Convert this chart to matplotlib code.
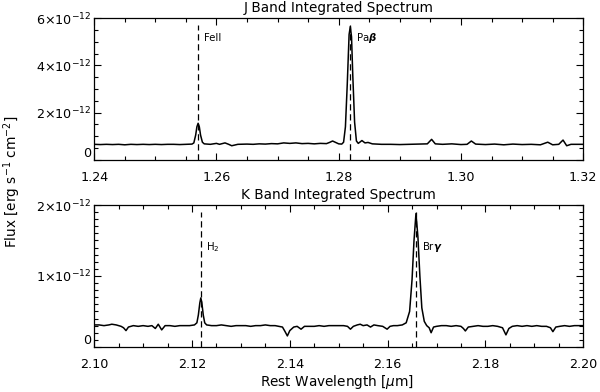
import matplotlib
matplotlib.use("Agg")
import matplotlib.pyplot as plt
from matplotlib.ticker import MultipleLocator, FixedLocator, FixedFormatter

SCALE = 1e-12

# ---- J band spectrum (wavelength [um], flux [1e-12 erg/s/cm2]) ----
j_wave = [1.2400, 1.2410, 1.2420, 1.2430, 1.2440, 1.2450, 1.2460, 1.2470, 1.2480, 1.2490,
          1.2500, 1.2510, 1.2520, 1.2530, 1.2540, 1.2550, 1.2560, 1.2563, 1.2566, 1.2568,
          1.2570, 1.2572, 1.2574, 1.2577, 1.2580, 1.2590, 1.2600, 1.2605, 1.2614, 1.2620,
          1.2625, 1.2635, 1.2650, 1.2660, 1.2670, 1.2680, 1.2690, 1.2700, 1.2710, 1.2720,
          1.2730, 1.2740, 1.2750, 1.2760, 1.2770, 1.2780, 1.2785, 1.2790, 1.2795, 1.2800,
          1.2805, 1.2808, 1.2811, 1.2814, 1.2817, 1.2819, 1.2821, 1.2823, 1.2826, 1.2829,
          1.2832, 1.2838, 1.2843, 1.2848, 1.2855, 1.2870, 1.2885, 1.2900, 1.2915, 1.2930,
          1.2945, 1.2952, 1.2958, 1.2970, 1.2985, 1.3000, 1.3010, 1.3017, 1.3024, 1.3040,
          1.3055, 1.3070, 1.3085, 1.3100, 1.3115, 1.3130, 1.3142, 1.3150, 1.3160, 1.3167,
          1.3173, 1.3180, 1.3200]
j_flux = [0.66, 0.65, 0.66, 0.65, 0.66, 0.64, 0.66, 0.65, 0.66, 0.65,
          0.66, 0.65, 0.66, 0.66, 0.65, 0.66, 0.67, 0.72, 1.05, 1.40,
          1.55, 1.40, 1.05, 0.75, 0.68, 0.66, 0.70, 0.66, 0.72, 0.66,
          0.60, 0.66, 0.67, 0.66, 0.68, 0.67, 0.69, 0.68, 0.72, 0.70,
          0.72, 0.69, 0.70, 0.68, 0.70, 0.69, 0.74, 0.80, 0.74, 0.68,
          0.67, 0.75, 1.40, 3.20, 5.30, 5.64, 5.20, 3.60, 1.60, 0.80,
          0.70, 0.82, 0.72, 0.74, 0.68, 0.66, 0.66, 0.65, 0.66, 0.67,
          0.68, 0.87, 0.68, 0.66, 0.68, 0.65, 0.66, 0.80, 0.67, 0.65,
          0.67, 0.64, 0.67, 0.65, 0.66, 0.64, 0.75, 0.64, 0.66, 0.84,
          0.60, 0.66, 0.66]

# ---- K band spectrum ----
k_wave = [2.1000, 2.1010, 2.1020, 2.1030, 2.1036, 2.1045, 2.1055, 2.1060, 2.1065, 2.1070,
          2.1080, 2.1090, 2.1100, 2.1110, 2.1118, 2.1125, 2.1131, 2.1138, 2.1145, 2.1155,
          2.1165, 2.1175, 2.1185, 2.1195, 2.1205, 2.1210, 2.1213, 2.1216, 2.1218, 2.1220,
          2.1223, 2.1226, 2.1230, 2.1240, 2.1250, 2.1260, 2.1270, 2.1280, 2.1290, 2.1300,
          2.1310, 2.1320, 2.1330, 2.1340, 2.1350, 2.1360, 2.1370, 2.1385, 2.1390, 2.1395,
          2.1400, 2.1408, 2.1415, 2.1423, 2.1430, 2.1440, 2.1450, 2.1460, 2.1470, 2.1480,
          2.1490, 2.1500, 2.1510, 2.1518, 2.1524, 2.1530, 2.1538, 2.1544, 2.1550, 2.1558,
          2.1565, 2.1572, 2.1580, 2.1590, 2.1599, 2.1605, 2.1612, 2.1620, 2.1630, 2.1638,
          2.1645, 2.1650, 2.1654, 2.1658, 2.1662, 2.1666, 2.1670, 2.1675, 2.1680, 2.1685,
          2.1689, 2.1694, 2.1700, 2.1710, 2.1720, 2.1730, 2.1740, 2.1750, 2.1755, 2.1759,
          2.1765, 2.1775, 2.1785, 2.1795, 2.1805, 2.1815, 2.1825, 2.1835, 2.1842, 2.1848,
          2.1855, 2.1865, 2.1875, 2.1885, 2.1895, 2.1905, 2.1915, 2.1925, 2.1933, 2.1938,
          2.1944, 2.1952, 2.1962, 2.1972, 2.1982, 2.1992, 2.2000]
k_flux = [0.31, 0.31, 0.30, 0.31, 0.32, 0.31, 0.29, 0.27, 0.23, 0.28,
          0.30, 0.29, 0.30, 0.29, 0.30, 0.26, 0.32, 0.24, 0.30, 0.30,
          0.29, 0.30, 0.30, 0.30, 0.31, 0.34, 0.45, 0.62, 0.69, 0.63,
          0.45, 0.34, 0.31, 0.30, 0.30, 0.31, 0.30, 0.29, 0.30, 0.30,
          0.30, 0.29, 0.30, 0.30, 0.31, 0.30, 0.30, 0.28, 0.22, 0.155,
          0.23, 0.28, 0.29, 0.25, 0.29, 0.29, 0.29, 0.30, 0.29, 0.30,
          0.30, 0.30, 0.30, 0.29, 0.25, 0.29, 0.31, 0.32, 0.30, 0.31,
          0.28, 0.31, 0.30, 0.29, 0.25, 0.29, 0.30, 0.30, 0.31, 0.34,
          0.50, 0.95, 1.50, 1.88, 1.55, 1.00, 0.55, 0.36, 0.30, 0.27,
          0.20, 0.28, 0.29, 0.30, 0.30, 0.29, 0.30, 0.29, 0.26, 0.225,
          0.28, 0.29, 0.30, 0.29, 0.29, 0.30, 0.29, 0.27, 0.17, 0.26,
          0.29, 0.30, 0.29, 0.30, 0.29, 0.30, 0.29, 0.29, 0.27, 0.215,
          0.28, 0.29, 0.30, 0.29, 0.30, 0.30, 0.30]

# ---- line markers ----
j_lines = [1.2570, 1.2819]
j_line_labels = ["FeII", r"Pa$\boldsymbol{\beta}$"]
k_lines = [2.1218, 2.1659]
k_line_labels = [r"H$_2$", r"Br$\boldsymbol{\gamma}$"]

j_yticks = [0, 2, 4, 6]
j_yticklabels = ["0", r"2$\times$10$^{-12}$", r"4$\times$10$^{-12}$", r"6$\times$10$^{-12}$"]
k_yticks = [0, 1, 2]
k_yticklabels = ["0", r"1$\times$10$^{-12}$", r"2$\times$10$^{-12}$"]
j_xticks = [1.24, 1.26, 1.28, 1.30, 1.32]
k_xticks = [2.10, 2.12, 2.14, 2.16, 2.18, 2.20]

plt.rcParams['font.family'] = ['DejaVu Sans']
plt.rcParams['mathtext.fontset'] = 'dejavusans'

fig = plt.figure(figsize=(6.0, 3.92), dpi=100)
ax1 = fig.add_axes([0.157, 0.592, 0.815, 0.362])
ax2 = fig.add_axes([0.157, 0.115, 0.815, 0.362])

FS = 9.2


def style(ax, xt, xminor, yt, ylabels, yminor, xlim, ylim):
    ax.set_xlim(*xlim)
    ax.set_ylim(ylim[0] * SCALE, ylim[1] * SCALE)
    ax.xaxis.set_major_locator(FixedLocator(xt))
    ax.set_xticklabels(["%.2f" % v for v in xt])
    ax.xaxis.set_minor_locator(MultipleLocator(xminor))
    ax.yaxis.set_major_locator(FixedLocator([v * SCALE for v in yt]))
    ax.yaxis.set_major_formatter(FixedFormatter(ylabels))
    ax.yaxis.set_minor_locator(MultipleLocator(yminor * SCALE))
    ax.tick_params(which='both', direction='in', top=True, right=True,
                   labelsize=FS, width=0.8)
    ax.tick_params(axis='x', which='major', pad=8)
    ax.tick_params(axis='y', which='major', pad=2)
    ax.tick_params(which='major', length=5)
    ax.tick_params(which='minor', length=2.8)
    for s in ax.spines.values():
        s.set_linewidth(0.9)
    # lift the "0" label above the x-axis line
    fig.canvas.draw()
    ax.get_yticklabels()[0].set_verticalalignment('center_baseline')
    ax.get_yticklabels()[0].set_y(0.15 * (ylim[1] - ylim[0]) / 6 * SCALE)


ax1.plot(j_wave, [f * SCALE for f in j_flux], color='black', lw=1.1)
for w, lab in zip(j_lines, j_line_labels):
    ax1.plot([w, w], [0, 5.7 * SCALE], color='black', lw=0.9, ls=(0, (5, 3)))
    ax1.text(w + 0.0009, 5.16 * SCALE, lab, fontsize=7.3, ha='left', va='center')
style(ax1, j_xticks, 0.005, j_yticks, j_yticklabels, 0.5, (1.24, 1.32), (0, 6))
ax1.get_yticklabels()[0].set_verticalalignment('bottom')
ax1.set_title("J Band Integrated Spectrum", fontsize=9.8, pad=4.5)

ax2.plot(k_wave, [f * SCALE for f in k_flux], color='black', lw=1.1)
for w, lab in zip(k_lines, k_line_labels):
    ax2.plot([w, w], [0, 1.9 * SCALE], color='black', lw=0.9, ls=(0, (5, 3)))
    ax2.text(w + 0.0011, 1.41 * SCALE, lab, fontsize=7.3, ha='left', va='center')
style(ax2, k_xticks, 0.005, k_yticks, k_yticklabels, 0.1, (2.10, 2.20), (0, 2))
ax2.get_yticklabels()[0].set_verticalalignment('bottom')
ax2.set_title("K Band Integrated Spectrum", fontsize=9.8, pad=4.5)

fig.text(0.5625, 0.026, r"Rest Wavelength [$\mu$m]", fontsize=9.8,
         ha='center', va='center')
fig.text(0.02, 0.536, r"Flux [erg s$^{-1}$ cm$^{-2}$]", rotation=90,
         fontsize=9.8, ha='center', va='center')

fig.savefig("out.png", dpi=100, facecolor='white')
